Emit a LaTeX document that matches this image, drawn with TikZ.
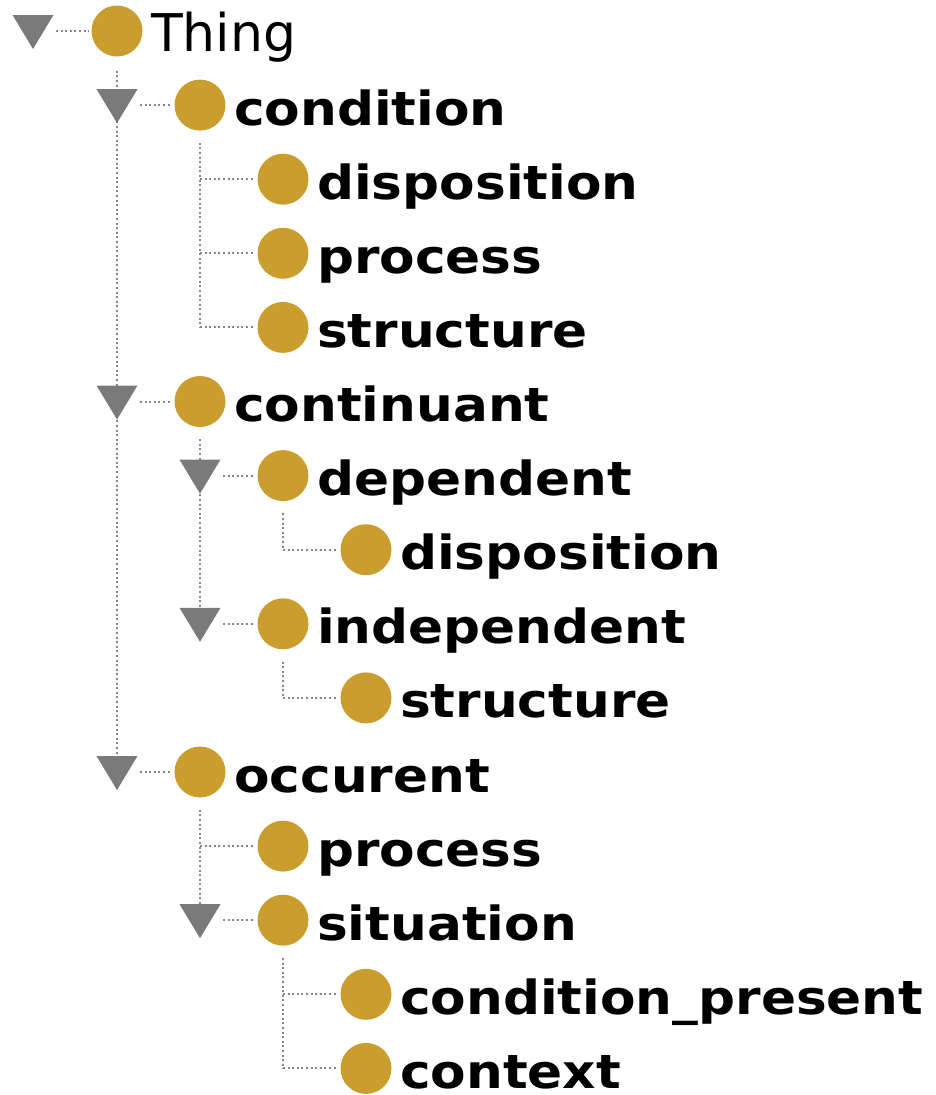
\documentclass[tikz,border=0pt]{standalone}
\usepackage{fontspec}
\newfontfamily\lblfont[FakeStretch=1.1]{DejaVu Sans}
\newfontfamily\rootfont{DejaVu Sans}
\definecolor{owlgold}{RGB}{201,158,47}
\definecolor{trigray}{RGB}{122,122,122}
\definecolor{dotgray}{RGB}{135,135,135}

% one tree row: name, circle x, row index, label style, text
\newcommand\treeentry[5]{%
  \node[cls] (#1) at (#2, {31+74.1*#3}) {};
  \node[#4] (#1-t) at (#2+34, {31+74.1*#3+20}) {#5};
}
% position of an expand/collapse triangle: name, x, row index
\newcommand\expander[3]{%
  \coordinate (#1) at (#2, {31+74.1*#3});
}

\begin{document}
\begin{tikzpicture}[x=1pt,y=-1pt,
  cls/.style={circle, fill=owlgold, minimum size=51pt, inner sep=0pt},
  lbl/.style={anchor=base west, inner sep=0pt, text=black, text depth=0pt,
    font=\lblfont\bfseries\fontsize{47}{50}\selectfont},
  rootlbl/.style={anchor=base west, inner sep=0pt, text=black,
    font=\rootfont\fontsize{52}{56}\selectfont},
  dots/.style={draw=dotgray, line width=2pt, dash pattern=on 2pt off 2.6pt}]
\useasboundingbox (0,0) rectangle (936,1095);

% classes
\treeentry{thing}{117}{0}{rootlbl}{Thing}
\treeentry{condition}{200}{1}{lbl}{condition}
\treeentry{dispA}{283}{2}{lbl}{disposition}
\treeentry{procA}{283}{3}{lbl}{process}
\treeentry{structA}{283}{4}{lbl}{structure}
\treeentry{continuant}{200}{5}{lbl}{continuant}
\treeentry{dependent}{283}{6}{lbl}{dependent}
\treeentry{dispB}{366}{7}{lbl}{disposition}
\treeentry{independent}{283}{8}{lbl}{independent}
\treeentry{structB}{366}{9}{lbl}{structure}
\treeentry{occurent}{200}{10}{lbl}{occurent}
\treeentry{procB}{283}{11}{lbl}{process}
\treeentry{situation}{283}{12}{lbl}{situation}
\treeentry{condpresent}{366}{13}{lbl}{condition\_present}
\treeentry{context}{366}{14}{lbl}{context}

% expanded-node toggles
\expander{x-thing}{33}{0}
\expander{x-condition}{117}{1}
\expander{x-continuant}{117}{5}
\expander{x-dependent}{200}{6}
\expander{x-independent}{200}{8}
\expander{x-occurent}{117}{10}
\expander{x-situation}{200}{12}

% vertical guide lines from each parent
\draw[dots] ([yshift=-14pt]thing.south) -- (thing.south |- x-occurent);
\draw[dots] ([yshift=-12pt]condition.south) -- (condition.south |- structA);
\draw[dots] ([yshift=-12pt]continuant.south) -- (continuant.south |- x-independent);
\draw[dots] ([yshift=-12pt]dependent.south) -- (dependent.south |- dispB);
\draw[dots] ([yshift=-12pt]independent.south) -- (independent.south |- structB);
\draw[dots] ([yshift=-12pt]occurent.south) -- (occurent.south |- x-situation);
\draw[dots] ([yshift=-12pt]situation.south) -- (situation.south |- context);

% toggle-to-class links
\foreach \n in {thing, condition, continuant, dependent, independent, occurent, situation}
  \draw[dots] ([xshift=23pt]x-\n) -- ([xshift=-3pt]\n.west);

% leaf links
\draw[dots] (condition.south |- dispA) -- ([xshift=-3pt]dispA.west);
\draw[dots] (condition.south |- procA) -- ([xshift=-3pt]procA.west);
\draw[dots] (condition.south |- structA) -- ([xshift=-3pt]structA.west);
\draw[dots] (dependent.south |- dispB) -- ([xshift=-3pt]dispB.west);
\draw[dots] (independent.south |- structB) -- ([xshift=-3pt]structB.west);
\draw[dots] (occurent.south |- procB) -- ([xshift=-3pt]procB.west);
\draw[dots] (situation.south |- condpresent) -- ([xshift=-3pt]condpresent.west);
\draw[dots] (situation.south |- context) -- ([xshift=-3pt]context.west);

% toggle triangles on top of the guide lines
\foreach \n in {thing, condition, continuant, dependent, independent, occurent, situation}
  \fill[trigray] ([shift={(-20.5pt,16pt)}]x-\n) -- ([shift={(20.5pt,16pt)}]x-\n)
    -- ([shift={(0pt,-18pt)}]x-\n) -- cycle;
\end{tikzpicture}
\end{document}
